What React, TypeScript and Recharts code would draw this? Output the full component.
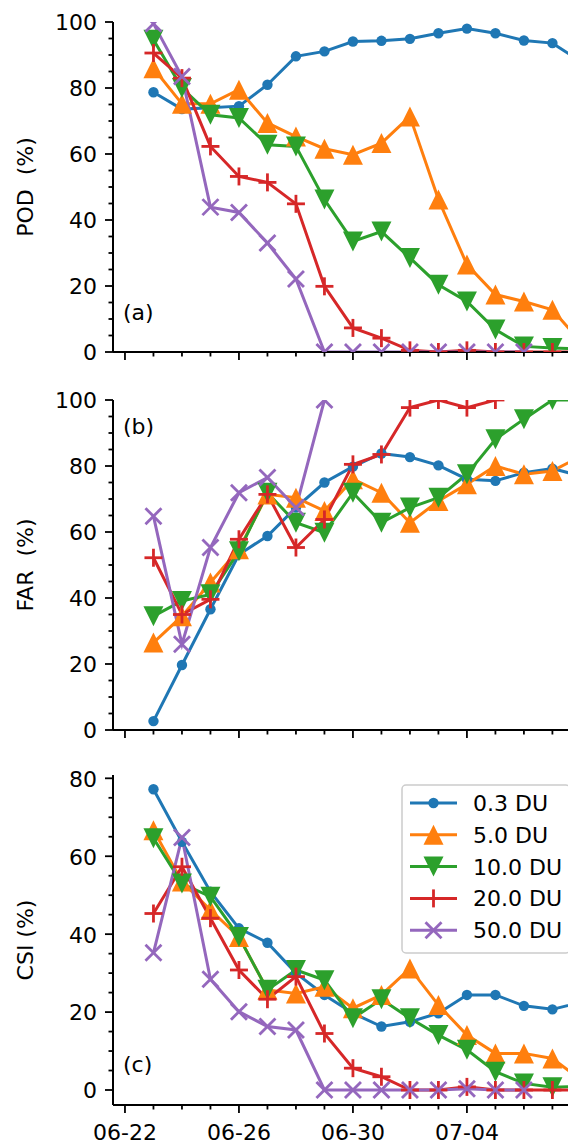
import { LineChart, Line, XAxis, YAxis, Customized } from "recharts";

// dates of each point (MM-DD)
const dates = [
  "06-23", "06-24", "06-25", "06-26", "06-27", "06-28", "06-29", "06-30",
  "07-01", "07-02", "07-03", "07-04", "07-05", "07-06", "07-07", "07-08",
];
const xTickLabels = ["06-22", "06-26", "06-30", "07-04"];

const seriesNames = ["0.3 DU", "5.0 DU", "10.0 DU", "20.0 DU", "50.0 DU"];
const seriesColors = ["#1f77b4", "#ff7f0e", "#2ca02c", "#d62728", "#9467bd"];
const seriesMarkers = ["circle", "up", "down", "plus", "cross"];

// (a) POD
const pod03 = [78.7, 73.6, 74, 74.5, 81, 89.6, 91.1, 94.1, 94.3, 94.9, 96.6, 98, 96.6, 94.4, 93.6, 88];
const pod5 = [86, 75.2, 75.2, 79.5, 69.4, 65.3, 61.6, 59.8, 63.3, 71.4, 46.2, 26.5, 17.4, 15.3, 12.8, 3];
const pod10 = [94.6, 80, 71.9, 70.9, 62.8, 62.3, 46.2, 33.5, 36.5, 28.5, 20.4, 15.3, 6.8, 1.7, 1.2, 1];
const pod20 = [90.6, 83, 62.3, 53.2, 51.4, 44.9, 19.9, 7.3, 4.2, 0.5, 0, 0.5, 0, 0, 0, 0];
const pod50 = [99.5, 83.5, 43.9, 42.3, 33, 22.1, 0, 0, 0, 0, 0, 0, 0, 0, null, null];

// (b) FAR
const far03 = [2.7, 19.7, 36.6, 53.2, 58.8, 67.4, 75, 79.8, 83.8, 82.7, 80.2, 76, 75.5, 78, 79.2, 77];
const far5 = [26.5, 34.5, 44.7, 54.8, 71.4, 70.4, 66.4, 76, 71.9, 62.8, 69.4, 74.5, 80, 77.5, 78.5, 83];
const far10 = [34.5, 39.1, 41.1, 54.2, 71.9, 62.8, 59.8, 71.9, 62.8, 67.4, 70.4, 77.5, 88.1, 94.2, 100, 100];
const far20 = [52.2, 35, 39.6, 57.8, 71.4, 55.3, 63.8, 80.5, 83.5, 97.7, 100, 97.7, 100, null, null, null];
const far50 = [64.8, 26, 55.3, 71.9, 76.5, 67.4, 100, null, null, null, null, null, null, null, null, null];

// (c) CSI
const csi03 = [77.2, 63.7, 50.9, 41.5, 37.8, 30, 24.4, 19.7, 16.3, 17.5, 19.7, 24.4, 24.4, 21.6, 20.7, 22.5];
const csi5 = [66.7, 53.5, 46.2, 39.3, 25.7, 24.8, 26.5, 21, 24.4, 31.2, 21.8, 14.1, 9.4, 9.4, 8.1, 2.6];
const csi10 = [64.6, 53, 49.6, 39.3, 25.7, 30.8, 28.2, 18.4, 23.3, 18.4, 14.1, 10.3, 4.7, 1.7, 0.7, 0.9];
const csi20 = [45.3, 57.3, 44.1, 30.8, 23.3, 29.1, 14.5, 5.6, 3.4, 0, 0, 0.8, 0, 0, 0, 0];
const csi50 = [35.2, 64.8, 28.4, 20.1, 16.3, 15.4, 0, 0, 0, 0, 0, 0.3, 0, 0, null, null];

const X_MIN = -0.42;
const X_MAX = 16.67;
const FONT = 22;

// days since 06-22
const dayOf = (s: string) => {
  const [m, d] = s.split("-").map(Number);
  return m === 6 ? d - 22 : 8 + d;
};
const majorDays = xTickLabels.map(dayOf);
const allDays = Array.from({ length: 17 }, (_, i) => i);

const keys = ["s0", "s1", "s2", "s3", "s4"];
const buildRows = (series: (number | null)[][]) =>
  dates.map((d, i) => {
    const row: any = { x: dayOf(d) };
    series.forEach((s, j) => (row[keys[j]] = s[i]));
    return row;
  });

const podData = buildRows([pod03, pod5, pod10, pod20, pod50]);
const farData = buildRows([far03, far5, far10, far20, far50]);
const csiData = buildRows([csi03, csi5, csi10, csi20, csi50]);

function Marker({ kind, cx, cy, color }: any) {
  if (cx == null || cy == null || isNaN(cy)) return <g />;
  const s = 10;
  switch (kind) {
    case "circle":
      return <circle cx={cx} cy={cy} r={5.2} fill={color} />;
    case "up":
      return <polygon points={`${cx},${cy - s} ${cx - s},${cy + s} ${cx + s},${cy + s}`} fill={color} />;
    case "down":
      return <polygon points={`${cx},${cy + s} ${cx - s},${cy - s} ${cx + s},${cy - s}`} fill={color} />;
    case "plus":
      return (
        <g stroke={color} strokeWidth={2.8}>
          <line x1={cx - 9} x2={cx + 9} y1={cy} y2={cy} />
          <line x1={cx} x2={cx} y1={cy - 9} y2={cy + 9} />
        </g>
      );
    default:
      return (
        <g stroke={color} strokeWidth={2.8}>
          <line x1={cx - 8} x2={cx + 8} y1={cy - 8} y2={cy + 8} />
          <line x1={cx - 8} x2={cx + 8} y1={cy + 8} y2={cy - 8} />
        </g>
      );
  }
}

function XTick({ x, y, payload, showLabel }: any) {
  const idx = majorDays.indexOf(payload.value);
  const major = payload.value % 4 === 0;
  return (
    <g>
      <line x1={x} x2={x} y1={y} y2={y + (major ? 8 : 4.5)} stroke="#000" strokeWidth={1.8} />
      {showLabel && idx >= 0 && (
        <text x={x} y={y + 35} textAnchor="middle" fontSize={FONT} fill="#000">
          {xTickLabels[idx]}
        </text>
      )}
    </g>
  );
}

function YTick({ x, y, payload }: any) {
  const major = payload.value % 20 === 0;
  return (
    <g>
      <line x1={x - (major ? 8 : 4.5)} x2={x} y1={y} y2={y} stroke="#000" strokeWidth={1.8} />
      {major && (
        <text x={x - 16} y={y} dy="0.38em" textAnchor="end" fontSize={FONT} fill="#000">
          {payload.value}
        </text>
      )}
    </g>
  );
}

function Panel({ data, domain, yTicks, yLabel, tag, tagY, showX, top, legend }: any) {
  const height = 14 + 330 + (showX ? 50 : 26);
  return (
    <div style={{ position: "absolute", left: 0, top }}>
      <LineChart width={592} height={height} data={data} margin={{ top: 14, right: 0, bottom: 0, left: 0 }}>
        <XAxis
          dataKey="x"
          type="number"
          domain={[X_MIN, X_MAX]}
          allowDataOverflow
          ticks={allDays}
          interval={0}
          tickSize={0}
          tickMargin={0}
          tickLine={false}
          axisLine={{ stroke: "#000", strokeWidth: 2 }}
          tick={(p: any) => <XTick {...p} showLabel={showX} />}
          height={showX ? 50 : 26}
        />
        <XAxis
          xAxisId="top"
          orientation="top"
          type="number"
          domain={[X_MIN, X_MAX]}
          allowDataOverflow
          tick={false}
          tickLine={false}
          axisLine={{ stroke: "#000", strokeWidth: 2 }}
          height={0}
        />
        <YAxis
          type="number"
          domain={domain}
          allowDataOverflow
          ticks={yTicks}
          interval={0}
          width={105}
          tickSize={0}
          tickMargin={0}
          tickLine={false}
          axisLine={{ stroke: "#000", strokeWidth: 2 }}
          tick={(p: any) => <YTick {...p} />}
        />
        {keys.map((k, j) => (
          <Line
            key={k}
            dataKey={k}
            type="linear"
            stroke={seriesColors[j]}
            strokeWidth={3}
            isAnimationActive={false}
            activeDot={false}
            dot={(p: any) => (
              <Marker key={`${k}-${p.index}`} kind={seriesMarkers[j]} cx={p.cx} cy={p.cy} color={seriesColors[j]} />
            )}
          />
        ))}
        <Customized
          component={
            <g>
              <text
                x={17}
                y={179}
                transform="rotate(-90, 17, 179)"
                textAnchor="middle"
                dominantBaseline="central"
                fontSize={FONT}
                fill="#000"
                style={{ whiteSpace: "pre" }}
              >
                {yLabel}
              </text>
              <text x={115} y={tagY} fontSize={FONT} fill="#000">
                {tag}
              </text>
              {legend && (
                <g>
                  <rect x={394} y={24} width={168} height={168} rx={4} fill="#fff" fillOpacity={0.8} stroke="#cccccc" strokeWidth={1.5} />
                  {seriesNames.map((n, j) => {
                    const cy = 42 + j * 31.8;
                    return (
                      <g key={n}>
                        <line x1={402} x2={449} y1={cy} y2={cy} stroke={seriesColors[j]} strokeWidth={3} />
                        <Marker kind={seriesMarkers[j]} cx={425.5} cy={cy} color={seriesColors[j]} />
                        <text x={465} y={cy} dy="0.36em" fontSize={FONT} fill="#000">
                          {n}
                        </text>
                      </g>
                    );
                  })}
                </g>
              )}
            </g>
          }
        />
      </LineChart>
    </div>
  );
}

const ticks100 = Array.from({ length: 21 }, (_, i) => i * 5);
const ticks80 = Array.from({ length: 17 }, (_, i) => i * 5);

export default function App() {
  return (
    <div style={{ position: "relative", width: 568, height: 1136, overflow: "hidden", fontFamily: "DejaVu Sans" }}>
      <Panel data={podData} domain={[0, 100]} yTicks={ticks100} yLabel="POD  (%)" tag="(a)" tagY={312} top={0} />
      <Panel data={farData} domain={[0, 100]} yTicks={ticks100} yLabel="FAR  (%)" tag="(b)" tagY={48} top={378} />
      <Panel data={csiData} domain={[-3.85, 80.85]} yTicks={ticks80} yLabel="CSI (%)" tag="(c)" tagY={311} top={753} showX legend />
    </div>
  );
}
